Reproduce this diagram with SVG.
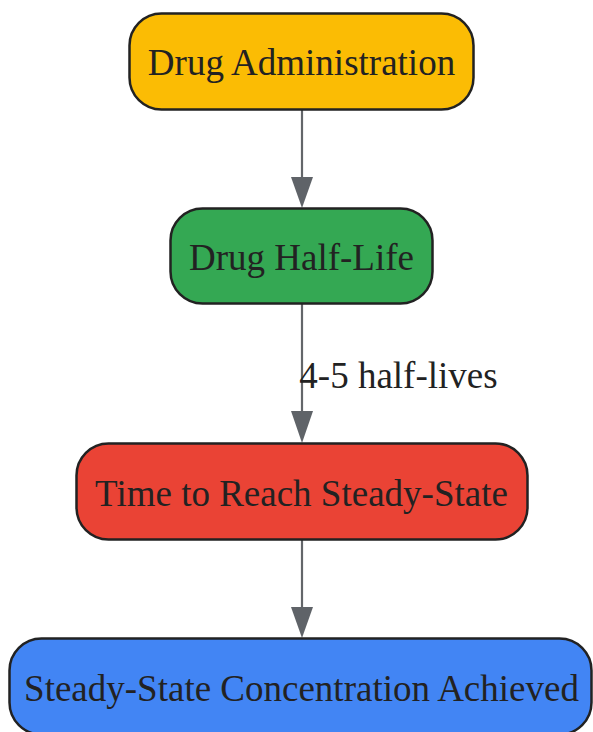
<svg xmlns="http://www.w3.org/2000/svg" width="593" height="732" viewBox="0 0 593 732">
<style>
.node rect{stroke:#222222;stroke-width:2.5}
.lbl{font-family:"Liberation Serif","Times New Roman",serif;font-size:37px;fill:#222222;text-anchor:middle}
.edge{stroke:#63666a;stroke-width:2.2;fill:none}
.head{fill:#5f6368}
</style>
<rect width="593" height="732" fill="#ffffff"/>
<g id="connectors">
<g id="e1"><line class="edge" x1="302" y1="110" x2="302" y2="180"/><polygon class="head" points="291,177 313,177 302,208"/></g>
<g id="e2"><line class="edge" x1="302" y1="304" x2="302" y2="414"/><polygon class="head" points="291,411 313,411 302,443"/></g>
<g id="e3"><line class="edge" x1="302" y1="540" x2="302" y2="610"/><polygon class="head" points="291,607 313,607 302,638"/></g>
<text class="lbl" x="398.5" y="388">4-5 half-lives</text>
</g>
<g id="n1" class="node"><rect x="129.5" y="13.5" width="344" height="96" rx="32" fill="#FBBC04"/><text class="lbl" x="301.5" y="75">Drug Administration</text></g>
<g id="n2" class="node"><rect x="170.5" y="208.5" width="262" height="95" rx="32" fill="#34A853"/><text class="lbl" x="301.5" y="270">Drug Half-Life</text></g>
<g id="n3" class="node"><rect x="76.5" y="443.5" width="451" height="96" rx="32" fill="#EA4335"/><text class="lbl" x="301.5" y="506">Time to Reach Steady-State</text></g>
<g id="n4" class="node"><rect x="9.5" y="638.5" width="582" height="96" rx="32" fill="#4285F4"/><text class="lbl" x="301.5" y="701">Steady-State Concentration Achieved</text></g>
</svg>
